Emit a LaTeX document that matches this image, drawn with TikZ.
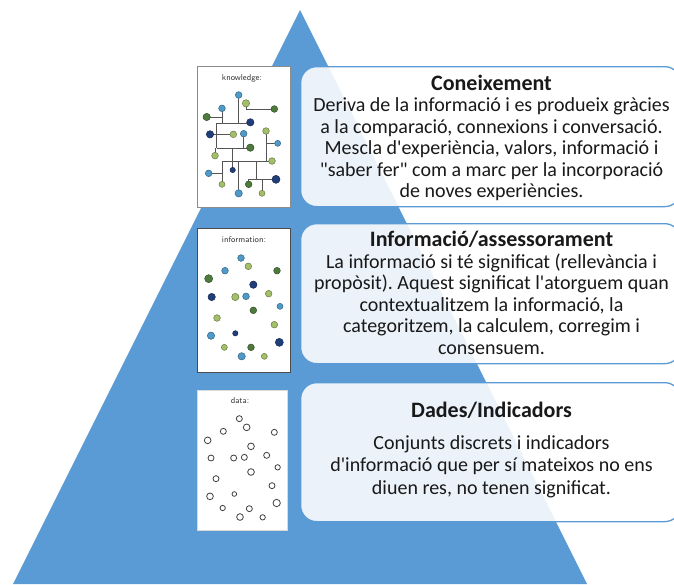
\documentclass[tikz,border=0pt]{standalone}
\usepackage{fontspec}
\setmainfont{Carlito}
\frenchspacing
\definecolor{tri}{RGB}{91,155,213}
\definecolor{navy}{RGB}{31,62,122}
\definecolor{lblue}{RGB}{79,154,201}
\definecolor{lgreen}{RGB}{163,191,106}
\definecolor{dgreen}{RGB}{78,122,61}
\definecolor{ink}{RGB}{25,25,25}
\definecolor{wire}{RGB}{85,85,85}
\newcommand{\kdot}[4]{\filldraw[fill=#3, draw=#3!65!black, line width=0.5pt] (#1,#2) circle (#4);}
\newcommand{\ringdot}[3]{\draw[draw=black!75, line width=0.8pt] (#1,#2) circle (#3);}
\begin{document}
\frenchspacing
\begin{tikzpicture}[x=1pt,y=-1pt,
  infobox/.style={draw=tri, line width=1.3pt, fill=white, fill opacity=0.88,
    rounded corners=16pt, minimum width=380pt, minimum height=140pt, inner sep=0pt, anchor=north west},
  titletext/.style={font=\fontsize{22}{24}\selectfont\bfseries, text=ink, inner sep=0pt, anchor=base},
  bodytext/.style={font=\fontsize{20}{21.5}\selectfont, text=ink, align=center, inner sep=0pt, anchor=north},
  card/.style={fill=white, draw=#1, line width=0.6pt, inner sep=0pt, anchor=north west},
  cardlabel/.style={font=\sffamily\fontsize{8.5}{9}\selectfont, text=black!80, inner sep=0pt},
  wires/.style={draw=wire, line width=0.6pt}
]
\clip (0,0) rectangle (674,584);
\fill[white] (0,0) rectangle (674,584);
% pyramid
\fill[tri] (300,10) -- (587,584) -- (13,584) -- cycle;

% boxes
\node[infobox] (b1) at (300,66) {};
\node[infobox] (b2) at (300,223) {};
\node[infobox, minimum height=139pt] (b3) at (300,382) {};

% box texts
\node[titletext] (t1) at (491.5,90) {Coneixement};
\node[bodytext] (d1) at (491.5,95.5) {\rule{0pt}{16pt}Deriva de la informació i es produeix gràcies\\a la comparació, connexions i conversació.\\Mescla d\textquotesingle experiència, valors, informació i\\\textquotedbl saber fer\textquotedbl{} com a marc per la incorporació\\de noves experiències.};

\node[titletext] (t2) at (491.5,246) {Informació/assessorament};
\node[bodytext] (d2) at (491.5,252) {\rule{0pt}{16pt}La informació si té significat (rellevància i\\propòsit). Aquest significat l\textquotesingle atorguem quan\\contextualitzem la informació, la\\categoritzem, la calculem, corregim i\\consensuem.};

\node[titletext] (t3) at (491.5,417) {Dades/Indicadors};
\node[bodytext, font=\fontsize{20}{22.5}\selectfont] (d3) at (491.5,433) {\rule{0pt}{16pt}Conjunts discrets i indicadors\\d\textquotesingle informació que per sí mateixos no ens\\diuen res, no tenen significat.};

% cards
\node[card=black!45, minimum width=93pt, minimum height=141pt] (k) at (197,66) {};
\node[card=black!70, minimum width=93pt, minimum height=144pt] (i) at (197,228) {};
\node[card=black!15, minimum width=90pt, minimum height=140pt] (d) at (197,390) {};

\node[cardlabel] (kl) at (242,78) {knowledge:};
\node[cardlabel] (il) at (244,240) {information:};
\node[cardlabel] (dl) at (240,401) {data:};

% knowledge network
\begin{scope}[shift={(196,85)}, scale=1/3]
  \draw[wires] (128,30)--(128,115);
  \draw[wires] (150,55)--(150,72)--(235,72);
  \draw[wires] (78,70)--(78,115);
  \draw[wires] (32,96)--(78,96);
  \draw[wires] (62,115)--(163,115);
  \draw[wires] (62,115)--(62,190);
  \draw[wires] (42,148)--(112,148);
  \draw[wires] (143,146)--(143,190);
  \draw[wires] (62,190)--(163,190);
  \draw[wires] (57,212)--(57,190);
  \draw[wires] (210,138)--(210,228);
  \draw[wires] (210,175)--(245,175);
  \draw[wires] (110,190)--(110,255);
  \draw[wires] (78,228)--(228,228);
  \draw[wires] (128,228)--(128,325);
  \draw[wires] (78,228)--(78,298);
  \draw[wires] (38,265)--(78,265);
  \draw[wires] (158,282)--(240,282);
  \draw[wires] (158,282)--(158,298);
  \draw[wires] (198,282)--(198,325);
  \draw[wires] (180,228)--(180,282);
  \kdot{128}{30}{lblue}{10}
  \kdot{150}{55}{lgreen}{11}
  \kdot{78}{70}{lblue}{10}
  \kdot{235}{72}{dgreen}{10}
  \kdot{32}{96}{dgreen}{11}
  \kdot{163}{112}{navy}{11}
  \kdot{42}{148}{navy}{11}
  \kdot{112}{148}{lgreen}{10}
  \kdot{143}{146}{lblue}{10}
  \kdot{210}{138}{lgreen}{10}
  \kdot{245}{175}{lblue}{9}
  \kdot{163}{188}{dgreen}{11}
  \kdot{57}{212}{lgreen}{10}
  \kdot{228}{228}{lgreen}{10}
  \kdot{110}{255}{navy}{8}
  \kdot{38}{265}{lblue}{10}
  \kdot{240}{283}{navy}{12}
  \kdot{78}{298}{lgreen}{9}
  \kdot{158}{298}{dgreen}{10}
  \kdot{128}{325}{lblue}{11}
  \kdot{198}{325}{lgreen}{9}
\end{scope}

% information dots
\begin{scope}[shift={(196,228)}, scale=1/3]
  \kdot{135}{90}{lblue}{10}
  \kdot{157}{115}{lgreen}{10}
  \kdot{87}{128}{lblue}{10}
  \kdot{243}{128}{dgreen}{10}
  \kdot{38}{152}{dgreen}{12}
  \kdot{172}{170}{navy}{11}
  \kdot{47}{207}{navy}{11}
  \kdot{118}{207}{lgreen}{11}
  \kdot{150}{205}{lblue}{10}
  \kdot{218}{197}{lgreen}{10}
  \kdot{252}{235}{lblue}{9}
  \kdot{172}{247}{dgreen}{10}
  \kdot{63}{270}{lgreen}{10}
  \kdot{235}{290}{lgreen}{10}
  \kdot{118}{316}{navy}{8}
  \kdot{45}{323}{lblue}{11}
  \kdot{250}{343}{navy}{12}
  \kdot{85}{358}{lgreen}{9}
  \kdot{165}{358}{dgreen}{10}
  \kdot{137}{385}{lblue}{11}
  \kdot{205}{385}{lgreen}{9}
\end{scope}

% data circles
\begin{scope}[shift={(196,388)}, scale=1/3]
  \ringdot{130}{92}{9}
  \ringdot{152}{118}{10}
  \ringdot{82}{130}{9}
  \ringdot{235}{133}{9}
  \ringdot{35}{157}{10}
  \ringdot{165}{175}{10}
  \ringdot{45}{210}{9}
  \ringdot{113}{210}{9}
  \ringdot{145}{208}{9}
  \ringdot{212}{202}{9}
  \ringdot{245}{238}{8}
  \ringdot{165}{252}{10}
  \ringdot{60}{272}{9}
  \ringdot{228}{293}{9}
  \ringdot{42}{325}{10}
  \ringdot{115}{318}{7}
  \ringdot{242}{345}{11}
  \ringdot{80}{360}{8}
  \ringdot{160}{362}{9}
  \ringdot{132}{387}{10}
  \ringdot{200}{388}{8}
\end{scope}
\end{tikzpicture}
\end{document}
